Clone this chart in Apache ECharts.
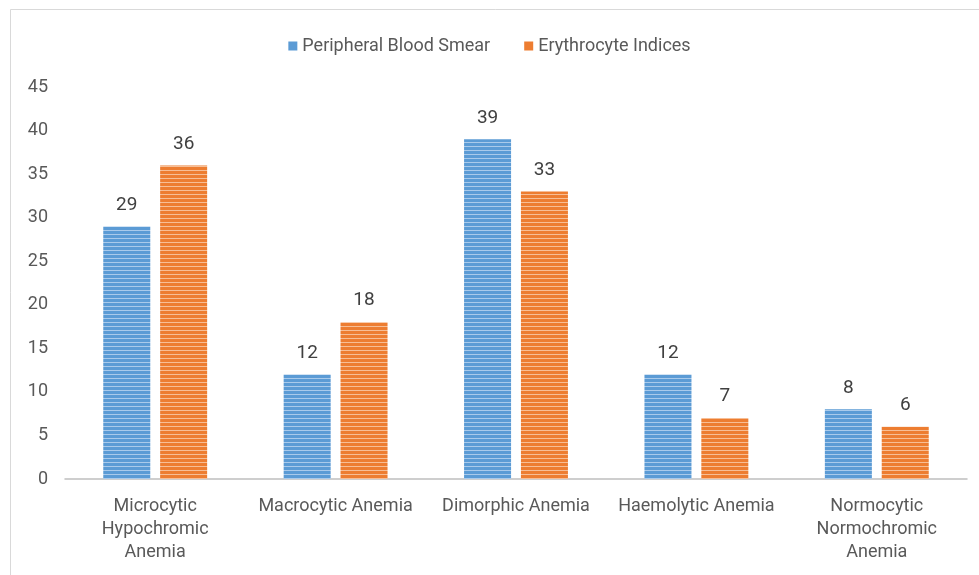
<!DOCTYPE html>
<html>
<head>
<meta charset="utf-8">
<script src="https://cdn.jsdelivr.net/npm/echarts@6/dist/echarts.min.js"></script>
<style>
  html, body { margin: 0; padding: 0; background: #fff; }
  #chart { width: 979px; height: 575px; }
</style>
</head>
<body>
<div id="chart"></div>
<script>
// categories and values
var categories = [
  'Microcytic\nHypochromic\nAnemia',
  'Macrocytic Anemia',
  'Dimorphic Anemia',
  'Haemolytic Anemia',
  'Normocytic\nNormochromic\nAnemia'
];
var smearValues = [29, 12, 39, 12, 8];
var indicesValues = [36, 18, 33, 7, 6];
var seriesNames = ['Peripheral Blood Smear', 'Erythrocyte Indices'];

var FONT = "'Roboto', sans-serif";

// striped fill like the old office chart
function stripes(base, light) {
  var c = document.createElement('canvas');
  c.width = 4;
  c.height = 4;
  var ctx = c.getContext('2d');
  ctx.fillStyle = base;
  ctx.fillRect(0, 0, 4, 4);
  ctx.fillStyle = light;
  ctx.fillRect(0, 2, 4, 1);
  return { image: c, repeat: 'repeat' };
}

var myChart = echarts.init(document.getElementById('chart'));
myChart.setOption({
  backgroundColor: '#fff',
  animation: false,
  textStyle: { fontFamily: FONT },
  graphic: [{
    type: 'rect',
    shape: { x: 10.5, y: 9.5, width: 1000, height: 600 },
    style: { fill: 'none', stroke: '#d9d9d9', lineWidth: 1 },
    silent: true
  }],
  legend: {
    top: 32,
    left: 'center',
    itemWidth: 9,
    itemHeight: 9,
    itemGap: 34,
    icon: 'rect',
    textStyle: { color: '#595959', fontSize: 18, fontFamily: FONT },
    data: [
      { name: seriesNames[0], itemStyle: { color: '#5B9BD5' } },
      { name: seriesNames[1], itemStyle: { color: '#ED7D31' } }
    ]
  },
  grid: { left: 65, right: 12, top: 87, bottom: 96 },
  xAxis: {
    type: 'category',
    data: categories,
    axisLine: { lineStyle: { color: '#bfbfbf', width: 1.5 } },
    axisTick: { show: false },
    axisLabel: {
      interval: 0,
      color: '#595959',
      fontSize: 18,
      lineHeight: 23,
      margin: 16,
      fontFamily: FONT
    }
  },
  yAxis: {
    type: 'value',
    min: 0,
    max: 45,
    interval: 5,
    splitLine: { show: false },
    axisLine: { show: false },
    axisTick: { show: false },
    axisLabel: { color: '#595959', fontSize: 18, margin: 17, fontFamily: FONT }
  },
  series: [
    {
      name: seriesNames[0],
      type: 'bar',
      data: smearValues,
      barWidth: 47,
      barGap: '21%',
      itemStyle: { color: stripes('#5B9BD5', '#A9CAEB') },
      label: { show: true, position: 'top', distance: 12, color: '#404040', fontSize: 19, fontFamily: FONT }
    },
    {
      name: seriesNames[1],
      type: 'bar',
      data: indicesValues,
      barWidth: 47,
      barGap: '21%',
      itemStyle: { color: stripes('#ED7D31', '#F7BE95') },
      label: { show: true, position: 'top', distance: 12, color: '#404040', fontSize: 19, fontFamily: FONT }
    }
  ]
});
</script>
</body>
</html>
